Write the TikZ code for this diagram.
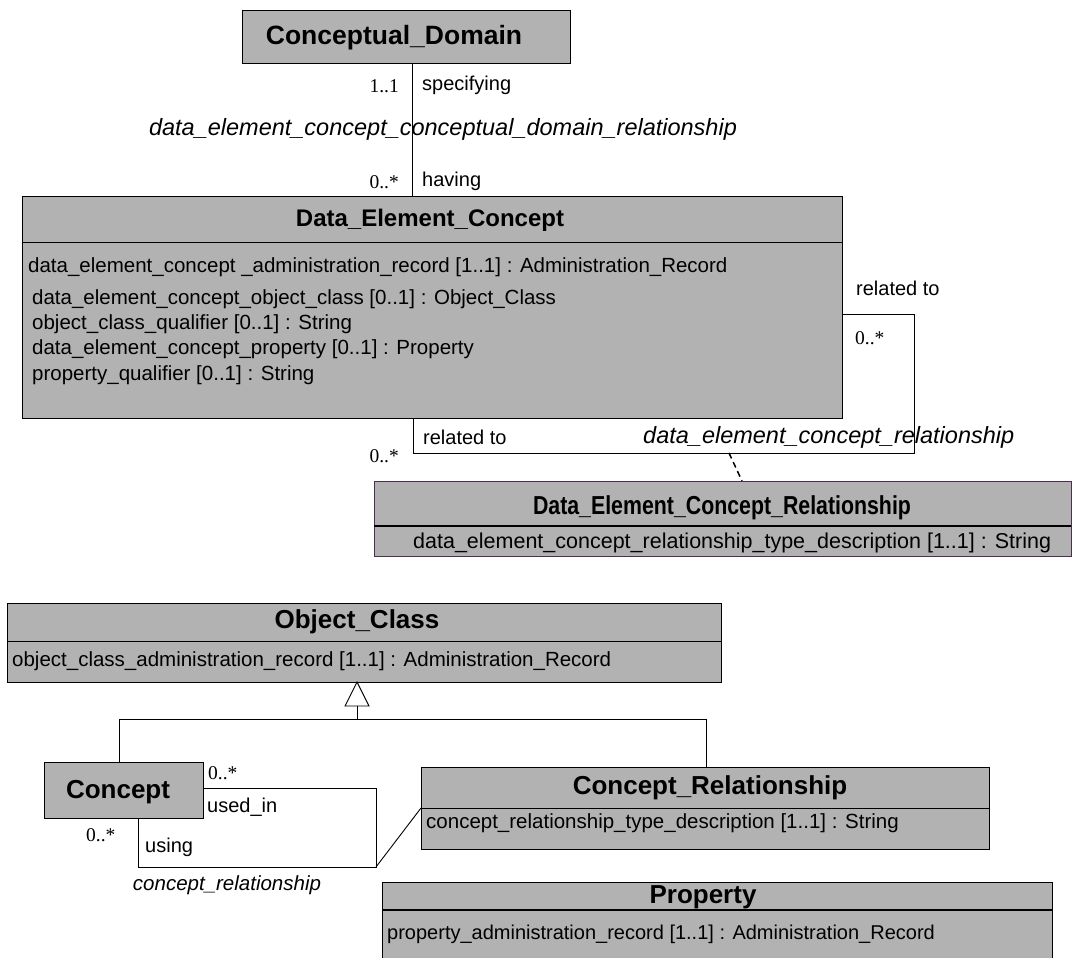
\documentclass[tikz,border=0pt]{standalone}
\usepackage{fontspec}
\usepackage{graphicx}
\setmainfont{Liberation Sans}
\newfontfamily\multfont{Liberation Serif}
\definecolor{clsgray}{HTML}{B2B2B2}
\definecolor{dpurple}{HTML}{4A304A}
\newcommand{\narrow}[1]{\scalebox{0.82}[1]{#1}}
\tikzset{
  cls/.style={draw=black, fill=clsgray, line width=1pt, inner sep=0pt, outer sep=0pt, anchor=north west},
  ttl/.style={inner sep=0pt, font=\fontsize{26}{26}\selectfont\bfseries},
  attr/.style={inner sep=0pt, anchor=west, font=\fontsize{20.5}{20.5}\selectfont},
  mult/.style={inner sep=0pt, font=\fontsize{19.5}{19.5}\selectfont\multfont},
  role/.style={inner sep=0pt, anchor=west, font=\fontsize{20}{20}\selectfont},
  aname/.style={inner sep=0pt, font=\fontsize{23.5}{23.5}\selectfont\itshape},
  conn/.style={draw=black, line width=0.9pt},
  divline/.style={draw=black, line width=1pt},
  thickdiv/.style={draw=black, line width=2pt},
}
\begin{document}
\begin{tikzpicture}[x=1pt,y=-1pt]
\useasboundingbox (0,0) rectangle (1074,958);
\clip (0,0) rectangle (1074,958);

% ---------- Conceptual_Domain ----------
\node[cls, minimum width=328pt, minimum height=53pt] (cd) at (242,11) {};
\node[ttl, font=\fontsize{26.5}{26.5}\selectfont\bfseries] (cdt) at (394,38) {Conceptual\_Domain};

% ---------- Data_Element_Concept ----------
\node[cls, minimum width=820pt, minimum height=222pt] (dec) at (22,196) {};
\coordinate (decdiv) at (0,242);
\draw[divline] (dec.west |- decdiv) -- (dec.east |- decdiv);
\node[ttl, font=\fontsize{24}{24}\selectfont\bfseries] (dect) at (430,220) {Data\_Element\_Concept};
\node[attr] (deca1) at (28,267) {data\_element\_concept \_administration\_record [1..1] : Administration\_Record};
\node[attr] (deca2) at (32,299) {data\_element\_concept\_object\_class [0..1] : Object\_Class};
\node[attr] (deca3) at (32,324) {object\_class\_qualifier [0..1] : String};
\node[attr] (deca4) at (32,349) {data\_element\_concept\_property [0..1] : Property};
\node[attr] (deca5) at (32,375) {property\_qualifier [0..1] : String};

% CD -- DEC association
\coordinate (lx) at (412,0);
\draw[conn] (cd.south -| lx) -- (dec.north -| lx);
\node[mult, anchor=east] (m11) at (399,86) {1..1};
\node[role] (rspec) at (422,85) {specifying};
\node[aname] (an1) at (443,129) {data\_element\_concept\_conceptual\_domain\_relationship};
\node[mult, anchor=east] (m0a) at (399,182) {0..*};
\node[role] (rhav) at (422,181) {having};

% DEC self association
\coordinate (sr) at (914,314);
\coordinate (sb) at (413,453);
\draw[conn] (dec.east |- sr) -- (sr) -- (sr |- sb) -- (sb) -- (sb |- dec.south);
\node[role] (rrel1) at (856,288) {related to};
\node[mult, anchor=west] (m0b) at (855,338) {0..*};
\node[role] (rrel2) at (423,437) {related to};
\node[mult, anchor=east] (m0c) at (399,456) {0..*};
\node[aname, anchor=west] (an2) at (643,437) {data\_element\_concept\_relationship};

% ---------- Data_Element_Concept_Relationship ----------
\node[cls, draw=dpurple, minimum width=697pt, minimum height=75pt] (decr) at (374,481) {};
\coordinate (decrdiv) at (0,526);
\draw[thickdiv] (decr.west |- decrdiv) -- (decr.east |- decrdiv);
\node[ttl] (decrt) at (722,508) {\narrow{Data\_Element\_Concept\_Relationship}};
\node[attr, font=\fontsize{21.5}{21.5}\selectfont] (decra) at (413,543) {data\_element\_concept\_relationship\_type\_description [1..1] : String};

% dashed link class
\coordinate (da) at (729,453);
\coordinate (db) at (742,481);
\draw[conn, line width=1.5pt, dash pattern=on 6pt off 4pt] (da) -- (db);

% ---------- Object_Class ----------
\node[cls, minimum width=714pt, minimum height=79pt] (oc) at (7,603) {};
\coordinate (ocdiv) at (0,641);
\draw[divline] (oc.west |- ocdiv) -- (oc.east |- ocdiv);
\node[ttl] (oct) at (357,622) {Object\_Class};
\node[attr] (oca) at (12,661) {object\_class\_administration\_record [1..1] : Administration\_Record};

% ---------- Concept ----------
\node[cls, minimum width=159pt, minimum height=56pt] (con) at (44,762) {};
\node[ttl] (cont) at (118,792) {Concept};

% ---------- Concept_Relationship ----------
\node[cls, minimum width=568pt, minimum height=82pt] (cr) at (421,767) {};
\coordinate (crdiv) at (0,808);
\draw[divline] (cr.west |- crdiv) -- (cr.east |- crdiv);
\node[ttl] (crt) at (710,788) {Concept\_Relationship};
\node[attr] (cra) at (426,823) {concept\_relationship\_type\_description [1..1] : String};

% ---------- Property ----------
\node[cls, minimum width=670pt, minimum height=100pt] (prop) at (382,882) {};
\coordinate (propdiv) at (0,910);
\draw[thickdiv] (prop.west |- propdiv) -- (prop.east |- propdiv);
\node[ttl] (propt) at (703,897) {Property};
\node[attr, font=\fontsize{20}{20}\selectfont] (propa) at (387,934) {property\_administration\_record [1..1] : Administration\_Record};

% ---------- Generalization ----------
\coordinate (gx) at (357,0);
\coordinate (gbase) at (357,706);
\coordinate (gj) at (357,719);
\coordinate (gl) at (119,719);
\coordinate (gr) at (706,719);
\draw[conn, fill=white] (oc.south -| gx) -- ++(-12,24) -- ++(24,0) -- cycle;
\draw[conn] (gbase) -- (gj);
\draw[conn] (gl) -- (gr);
\draw[conn] (gl) -- (con.north -| gl);
\draw[conn] (gr) -- (cr.north -| gr);

% ---------- Concept self association ----------
\coordinate (cu) at (376,788);
\coordinate (cb) at (138,867);
\draw[conn] (con.east |- cu) -- (cu) -- (cu |- cb) -- (cb) -- (cb |- con.south);
\draw[conn] (cu |- cb) -- (cr.west |- crdiv);
\node[mult, anchor=west] (m0d) at (208,773) {0..*};
\node[role] (rused) at (207,807) {used\_in};
\node[mult, anchor=west] (m0e) at (86,835) {0..*};
\node[role] (rusing) at (145,847) {using};
\node[aname, font=\fontsize{20.5}{20.5}\selectfont\itshape] (an3) at (227,885) {concept\_relationship};

\end{tikzpicture}
\end{document}
